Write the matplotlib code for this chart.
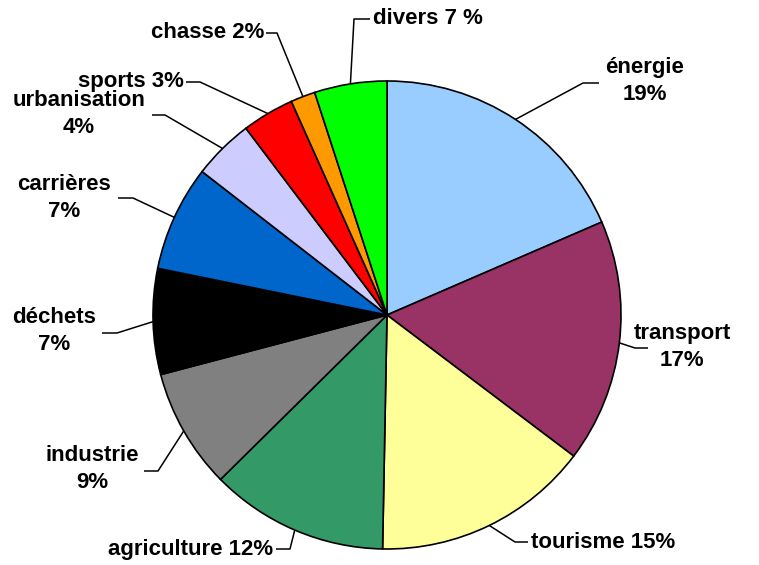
import numpy as np
import matplotlib
matplotlib.use('Agg')
import matplotlib.pyplot as plt

# data (clockwise from 12 o'clock)
categories = ['énergie', 'transport', 'tourisme', 'agriculture', 'industrie',
              'déchets', 'carrières', 'urbanisation', 'sports', 'chasse', 'divers']
values = [18.5, 16.8, 15.0, 12.3, 8.3, 7.3, 7.3, 4.2, 3.6, 1.7, 5.0]
labels = ['énergie\n19%', 'transport\n17%', 'tourisme 15%', 'agriculture 12%',
          'industrie\n9%', 'déchets\n7%', 'carrières\n7%', 'urbanisation\n4%',
          'sports 3%', 'chasse 2%', 'divers 7 %']
colors = ['#99CCFF', '#993366', '#FFFF99', '#339966', '#808080', '#000000',
          '#0066CC', '#CCCCFF', '#FF0000', '#FF9900', '#00FF00']

W, H = 759, 565
CX, CY, R = 387, 315, 234

# label layout in pixels: text (x, y), ha, elbow (x, y), line end x
layout = [
    ((645, 81), 'center', (583, 83), 599),
    ((682, 347), 'center', (635, 348), 648),
    ((531, 542), 'left', (515, 542), 528),
    ((273, 549), 'right', (290, 549), 276),
    ((92, 469), 'center', (158, 471), 144),
    ((54, 331), 'center', (117, 333), 102),
    ((64, 198), 'center', (133, 198), 118),
    ((79, 114), 'center', (165, 115), 152),
    ((184, 82), 'right', (200, 82), 186),
    ((264, 33), 'right', (277, 33), 266),
    ((373, 19), 'left', (354, 19), 370),
]

fig = plt.figure(figsize=(W / 100, H / 100), dpi=100)
ax = fig.add_axes([0, 0, 1, 1])

wedges, _ = ax.pie(values, colors=colors, startangle=90, counterclock=False,
                   center=(CX, H - CY), radius=R,
                   wedgeprops=dict(edgecolor='black', linewidth=1.2))
ax.set_xlim(0, W)
ax.set_ylim(0, H)
ax.set_aspect('equal')
ax.axis('off')

for w, lab, (txy, ha, elbow, endx) in zip(wedges, labels, layout):
    mid = np.deg2rad((w.theta1 + w.theta2) / 2)
    ax_x = CX + R * np.cos(mid)
    ax_y = (H - CY) + R * np.sin(mid)
    ex, ey = elbow
    ax.plot([ax_x, ex, endx], [ax_y, H - ey, H - ey], color='black', lw=1.1,
            solid_capstyle='butt')
    ax.text(txy[0], H - txy[1], lab, ha=ha, va='center', multialignment='center',
            fontsize=16, fontweight='bold', family='Liberation Sans',
            linespacing=1.42)

fig.savefig('out.png', dpi=100)
